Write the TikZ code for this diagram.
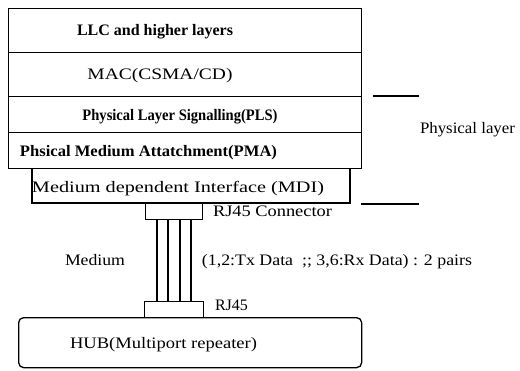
\documentclass[tikz,border=0pt]{standalone}
\usepackage{fontspec}
\setmainfont{Liberation Serif}
\usepackage{graphicx}
\newcommand\fitw[2]{\resizebox{#1pt}{\height}{#2}}
\begin{document}
\begin{tikzpicture}[x=1pt,y=-1pt,line width=1.3pt,
  layerbox/.style={draw,rectangle,inner sep=0pt,anchor=north west},
  lbl/.style={font=\fontsize{16}{18}\selectfont,inner sep=0pt,anchor=base},
  wire/.style={line width=1.2pt}]
\useasboundingbox (0,0) rectangle (520,370);
% layer boxes
\node[layerbox,minimum width=353pt,minimum height=44pt] (llc) at (8,8) {};
\node[layerbox,minimum width=353pt,minimum height=44pt] (mac) at (8,52) {};
\node[layerbox,minimum width=353pt,minimum height=36pt] (pls) at (8,96) {};
\node[layerbox,minimum width=353pt,minimum height=36pt] (pma) at (8,132) {};
\coordinate (mdiTL) at (32,168);
\coordinate (mdiBL) at (32,203);
\coordinate (mdiBR) at (350,203);
\coordinate (mdiTR) at (350,168);
\draw (mdiTL) -- (mdiBL) -- (mdiBR) -- (mdiTR);
% connectors
\node[layerbox,minimum width=57pt,minimum height=16pt] (rjtop) at (145,203) {};
\node[layerbox,minimum width=59pt,minimum height=16pt] (rjbot) at (144,301) {};
\foreach \x in {157,168,180,191}
  \draw[wire] (rjtop.south -| \x,0) -- (rjbot.north -| \x,0);
% hub
\node[draw,rectangle,rounded corners=5pt,inner sep=0pt,anchor=north west,
  minimum width=343pt,minimum height=50pt] (hub) at (18,317) {};
% physical layer brackets
\coordinate (b1a) at (373,96);
\coordinate (b1b) at (419,96);
\coordinate (b2a) at (361,204);
\coordinate (b2b) at (419,204);
\draw (b1a) -- (b1b);
\draw (b2a) -- (b2b);
% texts
\node[lbl] (tllc) at (155,35.5) {\fitw{156}{\textbf{LLC and higher layers}}};
\node[lbl] (tmac) at (160,79.5) {\fitw{145}{MAC(CSMA/CD)}};
\node[lbl] (tpls) at (180,120.5) {\fitw{195}{\textbf{Physical Layer Signalling(PLS)}}};
\node[lbl] (tpma) at (148.5,156.5) {\fitw{257}{\textbf{Phsical Medium Attatchment(PMA)}}};
\node[lbl] (tmdi) at (178,192.5) {\fitw{292}{Medium dependent Interface (MDI)}};
\node[lbl] (trj1) at (272.5,216.5) {\fitw{119}{RJ45 Connector}};
\node[lbl] (tmed) at (95,265.5) {\fitw{60}{Medium}};
\node[lbl] (tpair) at (337,265.5) {\fitw{270}{(1,2:Tx Data\ \ ;; 3,6:Rx Data) : 2 pairs}};
\node[lbl] (trj2) at (231.5,310.5) {\fitw{33}{RJ45}};
\node[lbl] (thub) at (163.5,348.5) {\fitw{187}{HUB(Multiport repeater)}};
\node[lbl] (tphy) at (467.5,133.5) {\fitw{95}{Physical layer}};
\end{tikzpicture}
\end{document}
